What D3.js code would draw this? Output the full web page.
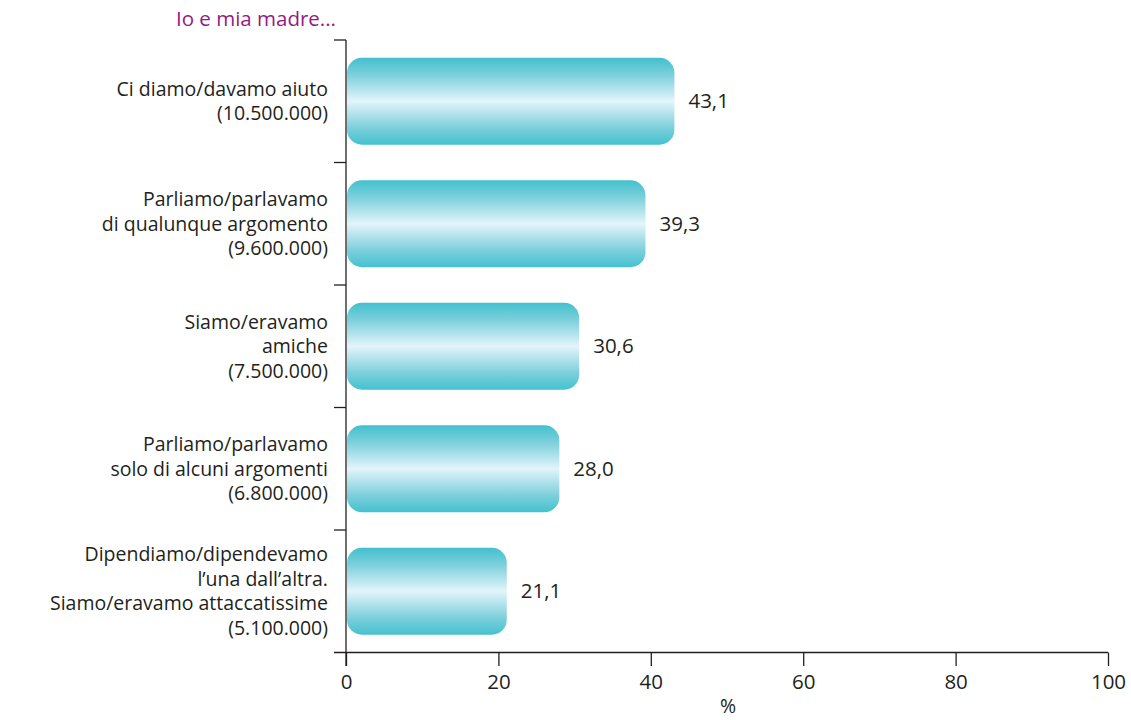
<!DOCTYPE html>
<html>
<head>
<meta charset="utf-8">
<script src="https://cdn.jsdelivr.net/npm/d3@7"></script>
<style>
  html, body { margin: 0; padding: 0; background: #fff; }
  svg { display: block; }
  text { font-family: "Open Sans", "Noto Sans", sans-serif; fill: #231f20; }
</style>
</head>
<body>
<svg id="chart" width="1131" height="720"></svg>
<script>
// Answers about the relationship with one's mother (% and absolute counts)
const categories = [
  ["Ci diamo/davamo aiuto", "(10.500.000)"],
  ["Parliamo/parlavamo", "di qualunque argomento", "(9.600.000)"],
  ["Siamo/eravamo", "amiche", "(7.500.000)"],
  ["Parliamo/parlavamo", "solo di alcuni argomenti", "(6.800.000)"],
  ["Dipendiamo/dipendevamo", "l\u2019una dall\u2019altra.", "Siamo/eravamo attaccatissime", "(5.100.000)"]
];
const values = [43.1, 39.3, 30.6, 28.0, 21.1];
const xTicks = [0, 20, 40, 60, 80, 100];
const title = "Io e mia madre...";
const xLabel = "%";

const labelSize = 19.5, numSize = 20.5;
const svg = d3.select("#chart");
const plotLeft = 346, plotRight = 1108, plotTop = 40, plotBottom = 652.5;

const x = d3.scaleLinear().domain([0, 100]).range([plotLeft, plotRight]);
const y = d3.scaleBand().domain(d3.range(categories.length)).range([plotTop, plotBottom]).paddingInner(0.29).paddingOuter(0.145);

// bar gradient: teal at the edges, pale in the middle
const defs = svg.append("defs");
const grad = defs.append("linearGradient").attr("id", "barGrad")
  .attr("x1", 0).attr("y1", 0).attr("x2", 0).attr("y2", 1);
[[0, "#43c0ce"], [0.2, "#7dd0dc"], [0.5, "#e3f4fb"], [0.8, "#7ed0dc"], [1, "#45c1cf"]]
  .forEach(([o, c]) => grad.append("stop").attr("offset", o).attr("stop-color", c));

// bars
svg.append("g").selectAll("rect").data(values).join("rect")
  .attr("x", x(0) + 1)
  .attr("y", (d, i) => y(i))
  .attr("width", d => x(d) - x(0) - 1)
  .attr("height", y.bandwidth())
  .attr("rx", 15).attr("ry", 15)
  .attr("fill", "url(#barGrad)");

// value labels
svg.append("g").selectAll("text").data(values).join("text")
  .attr("x", d => x(d) + 14)
  .attr("y", (d, i) => y(i) + y.bandwidth() / 2)
  .attr("dy", "0.35em")
  .attr("font-size", numSize)
  .text(d => d.toFixed(1).replace(".", ","));

// category labels
const lineH = 24.5;
const lab = svg.append("g").selectAll("text").data(categories).join("text")
  .attr("text-anchor", "end")
  .attr("font-size", labelSize)
  .attr("x", 328)
  .attr("y", (d, i) => y(i) + y.bandwidth() / 2);
lab.selectAll("tspan").data(d => d.map((t, k) => ({t, k, n: d.length}))).join("tspan")
  .attr("x", 328)
  .attr("dy", (d) => d.k === 0 ? (0.35 * labelSize - (d.n - 1) * lineH / 2) : lineH)
  .text(d => d.t);

// y axis with band-boundary ticks on the left
const yBounds = d3.range(categories.length + 1).map(i => plotTop + i * (plotBottom - plotTop) / categories.length);
const axisCol = "#231f20";
svg.append("line").attr("x1", plotLeft).attr("x2", plotLeft).attr("y1", plotTop).attr("y2", plotBottom + 13.5)
  .attr("stroke", axisCol).attr("stroke-width", 1.3);
svg.append("g").selectAll("line").data(yBounds.slice(0, -1)).join("line")
  .attr("x1", plotLeft - 12).attr("x2", plotLeft).attr("y1", d => d).attr("y2", d => d)
  .attr("stroke", axisCol).attr("stroke-width", 1.3);

// x axis
const xAxis = svg.append("g").attr("transform", `translate(0,${plotBottom})`)
  .call(d3.axisBottom(x).tickValues(xTicks).tickSize(13.5).tickPadding(8).tickFormat(d3.format("d")));
xAxis.select(".domain").remove();
xAxis.append("line").attr("x1", plotLeft - 12).attr("x2", plotRight).attr("y1", 0).attr("y2", 0)
  .attr("stroke", axisCol).attr("stroke-width", 1.3);
xAxis.selectAll(".tick line").attr("stroke", axisCol).attr("stroke-width", 1.3);
xAxis.selectAll(".tick text").attr("font-size", numSize).attr("font-family", "'Open Sans', 'Noto Sans', sans-serif").attr("fill", axisCol);

svg.append("text").attr("x", (plotLeft + plotRight) / 2 + 1).attr("y", 713).attr("text-anchor", "middle")
  .attr("font-size", labelSize).text(xLabel);

svg.append("text").attr("x", 336).attr("y", 26).attr("font-size", 20.5)
  .attr("text-anchor", "end")
  .style("fill", "#951b81").text(title);
</script>
</body>
</html>
